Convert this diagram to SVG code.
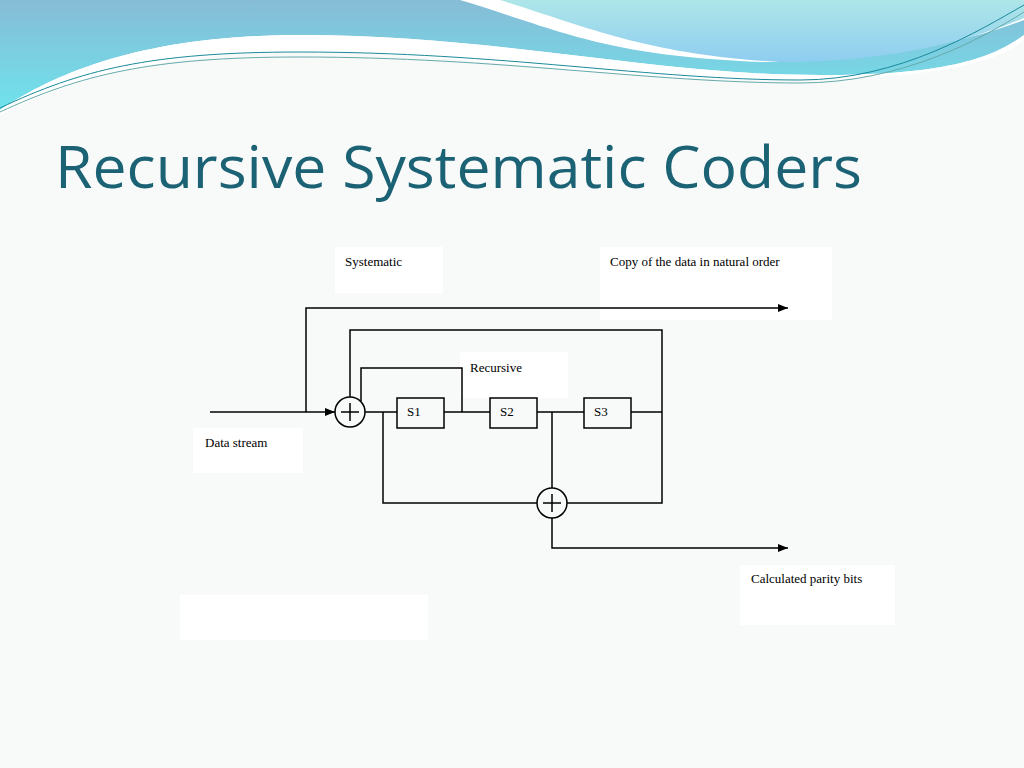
<svg xmlns="http://www.w3.org/2000/svg" width="1024" height="768" viewBox="0 0 1024 768">
<defs>
<linearGradient id="g1" x1="0" y1="0" x2="0" y2="1"><stop offset="0" stop-color="#86bcd6"/><stop offset="1" stop-color="#6fe3ec"/></linearGradient>
<linearGradient id="g2" x1="0" y1="0" x2="0" y2="1"><stop offset="0" stop-color="#aee6e8"/><stop offset="1" stop-color="#8fcdf0"/></linearGradient>
<marker id="ar" markerWidth="10" markerHeight="8" refX="10" refY="4" orient="auto" markerUnits="userSpaceOnUse"><path d="M0,0 L10,4 L0,8 z" fill="#000"/></marker>
</defs>
<style>
.w{stroke:#000;stroke-width:1.5;fill:none}
.t{font-family:"Liberation Serif",serif;font-size:13px;fill:#000}
.lb{fill:#fff}
</style>
<rect width="1024" height="768" fill="#f8f9f9"/>
<g id="banner">
<path d="M0,0 H1024 V35 C990,60 940,75 820,75 C650,75 500,35 300,35 C150,35 60,70 0,110 Z" fill="url(#g1)"/>
<path d="M0,110 C60,70 150,35 300,35 C500,35 650,75 820,75 C940,75 990,60 1024,35 V40 C990,70 900,80 760,80 C600,80 450,52 300,52 C150,52 60,85 0,115 Z" fill="#fff"/>
<path d="M230,0 C300,20 360,50 420,62 C500,62 800,50 1024,30 V0 Z" fill="#fff" opacity="0"/>
<path d="M460,0 C560,30 600,55 760,62 C860,62 960,45 1024,20 V0 Z" fill="#fff"/>
<path d="M500,0 C590,28 650,55 780,62 C880,62 960,45 1024,18 V0 Z" fill="url(#g2)"/>
<path d="M0,108 C80,70 150,52 300,52 C500,52 650,80 800,80 C900,80 980,30 1024,5" stroke="#1a8a9a" stroke-width="1" fill="none"/>
<path d="M0,112 C80,75 150,57 300,57 C500,57 650,83 800,83 C900,83 980,40 1024,12" stroke="#6aa" stroke-width="1" fill="none"/>
</g>
<text id="title" x="55" y="188" font-family="'Open Sans','Liberation Sans',sans-serif" font-size="58" fill="#1b6274" textLength="807" lengthAdjust="spacingAndGlyphs">Recursive Systematic Coders</text>
<g id="labels">
<rect class="lb" x="335" y="247" width="108" height="46"/>
<rect class="lb" x="600" y="247" width="232" height="73"/>
<rect class="lb" x="460" y="352" width="108" height="46"/>
<rect class="lb" x="193" y="428" width="110" height="45"/>
<rect class="lb" x="740" y="565" width="155" height="60"/>
<rect class="lb" x="180" y="595" width="248" height="45"/>
<text class="t" x="345" y="266">Systematic</text>
<text class="t" x="610" y="266">Copy of the data in natural order</text>
<text class="t" x="470" y="372">Recursive</text>
<text class="t" x="205" y="447">Data stream</text>
<text class="t" x="751" y="583">Calculated parity bits</text>
</g>
<g id="connectors">
<path class="w" d="M210,412 H335" marker-end="url(#ar)"/>
<path class="w" d="M306,412 V308 H788" marker-end="url(#ar)"/>
<path class="w" d="M350,397 V330 H662 V503 H567"/>
<path class="w" d="M361,401 V368 H462 V412"/>
<path class="w" d="M365,412 H397 M444,412 H490 M537,412 H584 M631,412 H662"/>
<path class="w" d="M383,412 V503 H537"/>
<path class="w" d="M552,412 V488 M552,518 V548 H788" marker-end="url(#ar)"/>
</g>
<g id="xor1"><circle class="w" cx="350" cy="412" r="15" fill="#fff"/><path class="w" d="M341,412 H359 M350,403 V421"/></g>
<g id="xor2"><circle class="w" cx="552" cy="503" r="15" fill="#fff"/><path class="w" d="M543,503 H561 M552,494 V512"/></g>
<g id="s1"><rect class="w" x="397" y="398" width="47" height="30"/><text class="t" x="407" y="416">S1</text></g>
<g id="s2"><rect class="w" x="490" y="398" width="47" height="30"/><text class="t" x="500" y="416">S2</text></g>
<g id="s3"><rect class="w" x="584" y="398" width="47" height="30"/><text class="t" x="594" y="416">S3</text></g>
</svg>
